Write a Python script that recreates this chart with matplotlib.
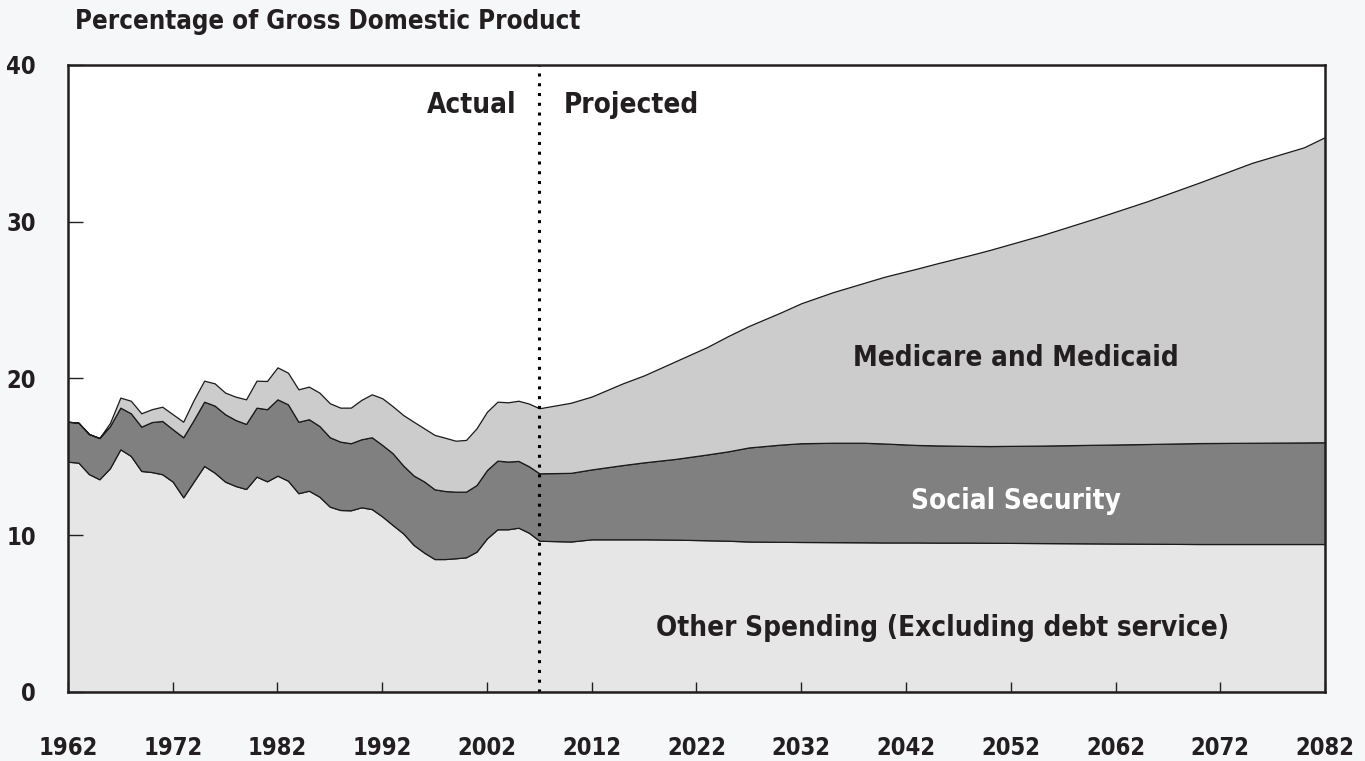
import numpy as np
import matplotlib.pyplot as plt

# years: annual actuals 1962-2007, then projection points
years = list(range(1962, 2008)) + [2010, 2012, 2015, 2017, 2020, 2023, 2025, 2027, 2030,
                                   2032, 2035, 2038, 2040, 2043, 2045, 2048, 2050, 2055,
                                   2060, 2065, 2070, 2075, 2080, 2082]

other = [14.69, 14.63, 13.90, 13.57, 14.27, 15.48, 15.06, 14.10, 14.03, 13.89,
         13.42, 12.42, 13.42, 14.42, 13.99, 13.42, 13.14, 12.95, 13.74, 13.44,
         13.80, 13.48, 12.68, 12.84, 12.46, 11.82, 11.61, 11.59, 11.78, 11.67,
         11.20, 10.65, 10.12, 9.38, 8.89, 8.48, 8.48, 8.53, 8.59, 8.95,
         9.80, 10.38, 10.38, 10.48, 10.16, 9.65,
         9.60, 9.74, 9.74, 9.74, 9.72, 9.68, 9.65, 9.60, 9.58,
         9.57, 9.56, 9.55, 9.54, 9.54, 9.53, 9.53, 9.52, 9.50,
         9.48, 9.46, 9.44, 9.44, 9.44, 9.44]

social_security = [2.55, 2.55, 2.56, 2.63, 2.68, 2.66, 2.72, 2.83, 3.19, 3.40,
                   3.34, 3.83, 3.93, 4.10, 4.28, 4.30, 4.21, 4.15, 4.40, 4.60,
                   4.87, 4.87, 4.56, 4.56, 4.51, 4.43, 4.36, 4.28, 4.34, 4.58,
                   4.56, 4.58, 4.33, 4.43, 4.54, 4.45, 4.34, 4.25, 4.19, 4.25,
                   4.36, 4.38, 4.32, 4.26, 4.24, 4.30,
                   4.38, 4.46, 4.74, 4.91, 5.15, 5.47, 5.70, 6.00, 6.20,
                   6.30, 6.34, 6.35, 6.31, 6.22, 6.20, 6.17, 6.17, 6.22,
                   6.29, 6.36, 6.44, 6.46, 6.48, 6.49]

medicare = [0.00, 0.00, 0.00, 0.00, 0.20, 0.64, 0.80, 0.85, 0.82, 0.91,
            0.96, 0.99, 1.28, 1.34, 1.42, 1.38, 1.49, 1.57, 1.72, 1.80,
            2.04, 2.02, 2.07, 2.08, 2.13, 2.17, 2.17, 2.27, 2.51, 2.74,
            2.98, 3.00, 3.22, 3.43, 3.39, 3.47, 3.40, 3.25, 3.30, 3.62,
            3.72, 3.76, 3.78, 3.84, 4.00, 4.15,
            4.47, 4.65, 5.22, 5.55, 6.23, 6.85, 7.35, 7.75, 8.42,
            8.93, 9.60, 10.20, 10.65, 11.24, 11.62, 12.15, 12.51, 13.43,
            14.43, 15.48, 16.62, 17.85, 18.83, 19.47]

xticks = list(range(1962, 2083, 10))
yticks = [0, 10, 20, 30, 40]
split_year = 2007

plt.rcParams['font.family'] = ['DejaVu Sans']
plt.rcParams['font.stretch'] = 'condensed'
plt.rcParams['font.weight'] = 'bold'
ink = '#231f20'

fig = plt.figure(figsize=(13.65, 7.61), dpi=100, facecolor='#f6f7f9')
ax = fig.add_axes([0.0498, 0.0907, 0.9209, 0.8239])
ax.set_facecolor('white')

ax.stackplot(years, other, social_security, medicare,
             colors=['#e6e6e6', '#808080', '#cccccc'],
             edgecolor='#1a1a1a', linewidth=0.9)

ax.axvline(split_year, color='black', linestyle=(0, (1, 2.2)), linewidth=2.2)

ax.set_xlim(1962, 2082)
ax.set_ylim(0, 40)
ax.set_xticks(xticks)
ax.set_yticks(yticks)
ax.tick_params(axis='x', direction='in', length=7, width=1.0, pad=32,
               labelsize=17, colors=ink)
ax.tick_params(axis='y', direction='in', length=11, width=1.0, pad=23,
               labelsize=17, colors=ink)
for lab in ax.get_xticklabels() + ax.get_yticklabels():
    lab.set_fontweight('bold')
for sp in ax.spines.values():
    sp.set_linewidth(1.8)
    sp.set_color(ink)

fig.text(75 / 1365, 1 - 22 / 761, 'Percentage of Gross Domestic Product',
         fontsize=18.5, fontweight='bold', color=ink, va='center', ha='left')

ax.text(2004.8, 37.45, 'Actual', fontsize=20, fontweight='bold', color=ink,
        ha='right', va='center')
ax.text(2009.3, 37.45, 'Projected', fontsize=20, fontweight='bold', color=ink,
        ha='left', va='center')
ax.text(2052.5, 21.3, 'Medicare and Medicaid', fontsize=20, fontweight='bold',
        color=ink, ha='center', va='center')
ax.text(2052.5, 12.2, 'Social Security', fontsize=20, fontweight='bold',
        color='white', ha='center', va='center')
ax.text(2045.5, 4.1, 'Other Spending (Excluding debt service)', fontsize=20,
        fontweight='bold', color=ink, ha='center', va='center')

fig.savefig('out.png', dpi=100, facecolor=fig.get_facecolor())
